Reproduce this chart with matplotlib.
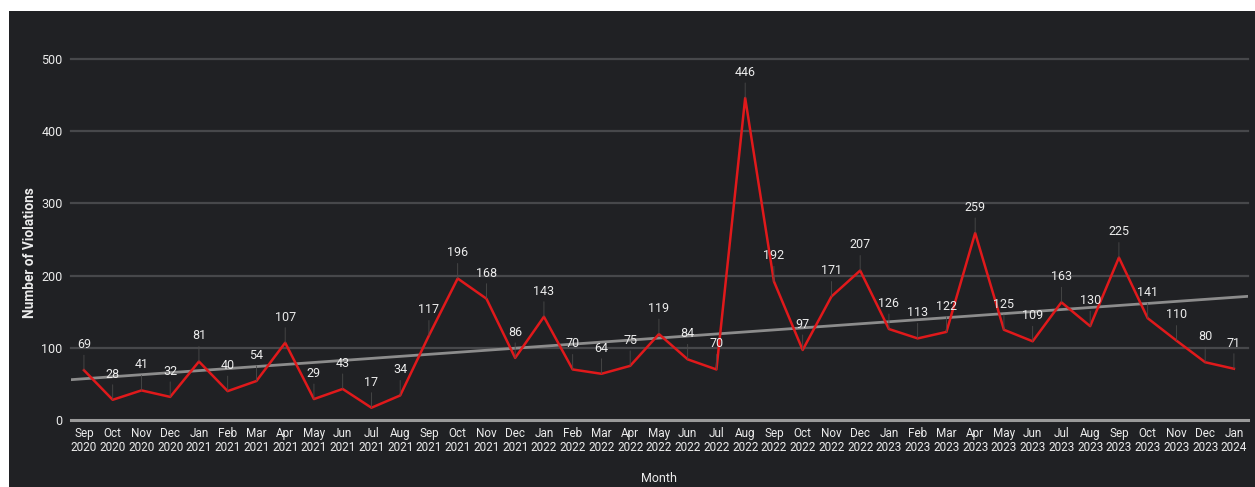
import numpy as np
import matplotlib
matplotlib.use('Agg')
import matplotlib.pyplot as plt
from matplotlib.patches import Rectangle

# Monthly violation counts, Sep 2020 - Jan 2024
months = ['Sep', 'Oct', 'Nov', 'Dec', 'Jan', 'Feb', 'Mar', 'Apr', 'May', 'Jun', 'Jul', 'Aug',
          'Sep', 'Oct', 'Nov', 'Dec', 'Jan', 'Feb', 'Mar', 'Apr', 'May', 'Jun', 'Jul', 'Aug',
          'Sep', 'Oct', 'Nov', 'Dec', 'Jan', 'Feb', 'Mar', 'Apr', 'May', 'Jun', 'Jul', 'Aug',
          'Sep', 'Oct', 'Nov', 'Dec', 'Jan']
years = ['2020'] * 4 + ['2021'] * 12 + ['2022'] * 12 + ['2023'] * 12 + ['2024']
violations = [69, 28, 41, 32, 81, 40, 54, 107, 29, 43, 17, 34,
              117, 196, 168, 86, 143, 70, 64, 75, 119, 84, 70, 446,
              192, 97, 171, 207, 126, 113, 122, 259, 125, 109, 163, 130,
              225, 141, 110, 80, 71]

plt.rcParams['font.family'] = ['Roboto', 'DejaVu Sans']

bg = '#202124'
txt = '#ececec'
fig = plt.figure(figsize=(12.55, 4.87), dpi=100)
fig.patch.set_facecolor('white')
fig.patches.append(Rectangle((9 / 1255, 0), 1 - 9 / 1255, 1 - 11 / 487,
                             transform=fig.transFigure, facecolor=bg,
                             edgecolor='none', zorder=-10))

ax = fig.add_axes([71 / 1255, 1 - 420 / 487, (1248 - 71) / 1255, (420 - 59) / 487])
ax.set_facecolor(bg)
ax.set_zorder(1)

x = np.arange(len(violations))
ax.set_xlim(-0.45, 40.49)
ax.set_ylim(0, 500)

# gridlines
for yv in [100, 200, 300, 400, 500]:
    ax.axhline(yv, color='#47484b', lw=1.6, zorder=1, clip_on=False)
ax.axhline(0, color='#9a9a9a', lw=2.2, zorder=2, clip_on=False)

# linear trend
coef = np.polyfit(x, violations, 1)
tx = np.array([-0.45, 40.49])
ax.plot(tx, np.polyval(coef, tx), color='#8c8c8c', lw=2, zorder=3)

ax.plot(x, violations, color='#e0191b', lw=1.8, zorder=4)

for i, v in zip(x, violations):
    ax.annotate(str(v), xy=(i, v), xytext=(0, 18.5), textcoords='offset points',
                ha='center', va='center', color=txt, fontsize=9,
                arrowprops=dict(arrowstyle='-', color='#4a4a4a', lw=0.6,
                                shrinkA=1, shrinkB=0), zorder=5)

ax.set_xticks(x)
ax.set_xticklabels([f'{m}\n{y}' for m, y in zip(months, years)], linespacing=1.1)
ax.set_yticks([0, 100, 200, 300, 400, 500])
ax.tick_params(axis='both', length=0, colors=txt, labelsize=9)
ax.tick_params(axis='x', labelsize=8.5, pad=5)
ax.tick_params(axis='y', pad=6)
for s in ax.spines.values():
    s.set_visible(False)

fig.text(30 / 1255, 1 - 253 / 487, 'Number of Violations', rotation=90,
         ha='center', va='center', color=txt, fontsize=9.8, fontweight='bold')
fig.text(659 / 1255, 1 - 479 / 487, 'Month', ha='center', va='center',
         color=txt, fontsize=9)

fig.savefig('out.png', dpi=100, facecolor=fig.get_facecolor())
